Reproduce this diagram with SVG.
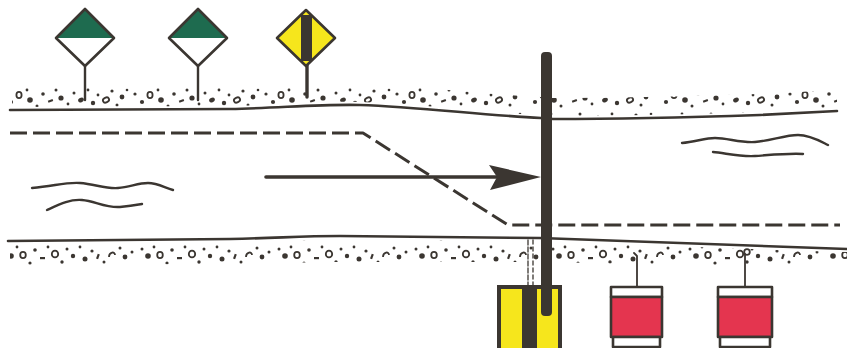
<svg xmlns="http://www.w3.org/2000/svg" width="847" height="348" viewBox="0 0 847 348">
  <style>
    .ink { fill: none; stroke: #3b3631; stroke-linecap: round; stroke-linejoin: round; }
    .bank { stroke-width: 2.6; }
    .wave { stroke-width: 2.4; }
    .lane { stroke-width: 3; stroke-dasharray: 17 6; stroke-linecap: butt; }
    .dot { fill: #3b3631; }
    .ring { fill: none; stroke: #3b3631; stroke-width: 1.8; }
    .outline { stroke: #3b3631; stroke-width: 2.6; stroke-linejoin: round; }
    .green { fill: #1e6b4f; }
    .white { fill: #ffffff; }
    .yellow { fill: #f6e61c; }
    .red { fill: #e4354f; }
    .dark { fill: #3b3631; }
  </style>
  <defs>
    <!-- gravel texture for the banks -->
    <pattern id="gritA" patternUnits="userSpaceOnUse" x="0" y="86" width="131" height="24">
      <circle class="dot" cx="4" cy="8" r="1.6"/>
      <circle class="dot" cx="11" cy="16" r="2.1"/>
      <ellipse class="ring" cx="19" cy="9" rx="2.6" ry="3.2"/>
      <circle class="dot" cx="27" cy="4" r="1.4"/>
      <circle class="dot" cx="30" cy="14" r="2.8"/>
      <circle class="dot" cx="37" cy="20" r="1.5"/>
      <circle class="dot" cx="43" cy="8" r="1.8"/>
      <rect class="dot" x="48" y="14" width="5" height="2.2" transform="rotate(-20 50 15)"/>
      <circle class="dot" cx="56" cy="4" r="1.5"/>
      <circle class="dot" cx="61" cy="12" r="2.6"/>
      <circle class="dot" cx="68" cy="18" r="1.4"/>
      <circle class="dot" cx="74" cy="7" r="1.5"/>
      <ellipse class="dot" cx="81" cy="14" rx="3" ry="2.2" transform="rotate(-30 81 14)"/>
      <circle class="dot" cx="88" cy="4" r="1.4"/>
      <circle class="dot" cx="93" cy="17" r="2.2"/>
      <circle class="dot" cx="98" cy="9" r="1.4"/>
      <ellipse class="ring" cx="106" cy="14" rx="3.2" ry="2.4" transform="rotate(-25 106 14)"/>
      <circle class="dot" cx="112" cy="5" r="1.6"/>
      <circle class="dot" cx="117" cy="19" r="1.5"/>
      <circle class="dot" cx="122" cy="11" r="2.4"/>
      <circle class="dot" cx="127" cy="4" r="1.3"/>
    </pattern>
    <pattern id="gritB" patternUnits="userSpaceOnUse" x="0" y="243" width="137" height="24">
      <circle class="dot" cx="5" cy="6" r="1.5"/>
      <circle class="dot" cx="11" cy="13" r="2.8"/>
      <circle class="dot" cx="17" cy="4" r="1.4"/>
      <ellipse class="ring" cx="23" cy="12" rx="2.8" ry="3.2"/>
      <circle class="dot" cx="30" cy="20" r="1.6"/>
      <circle class="dot" cx="35" cy="7" r="1.8"/>
      <rect class="dot" x="40" y="14" width="5" height="2.2"/>
      <circle class="dot" cx="48" cy="4" r="1.4"/>
      <ellipse class="ring" cx="55" cy="11" rx="3.2" ry="3.4"/>
      <circle class="dot" cx="62" cy="19" r="1.7"/>
      <circle class="dot" cx="67" cy="6" r="1.5"/>
      <circle class="dot" cx="73" cy="13" r="2.2"/>
      <circle class="dot" cx="80" cy="4" r="1.4"/>
      <circle class="dot" cx="85" cy="16" r="2.5"/>
      <circle class="dot" cx="92" cy="8" r="1.6"/>
      <rect class="dot" x="97" y="11" width="2.2" height="5" transform="rotate(20 98 13)"/>
      <circle class="dot" cx="104" cy="19" r="1.5"/>
      <path class="ring" d="M109,14 C109,9 115,8 115,12"/>
      <circle class="dot" cx="120" cy="5" r="1.5"/>
      <circle class="dot" cx="125" cy="14" r="2.4"/>
      <circle class="dot" cx="132" cy="9" r="1.5"/>
    </pattern>
  </defs>

  <rect width="847" height="348" fill="#ffffff"/>

  <!-- gravel bands -->
  <path fill="url(#gritA)" d="M12,88 L230,88 C280,87 320,84 360,84 C420,86 480,94 541,97 L553,98 C620,98 700,96 760,94 C800,92 820,91 837,90 L837,108 C820,109 800,110 760,112 C700,114 620,116 553,116 L541,115 C480,112 420,104 360,102 C320,101 280,105 230,106 L12,107 Z"/>
  <path fill="url(#gritB)" d="M10,243 L230,243 C280,242 300,240 340,240 L540,241 C600,243 700,248 847,252 L847,268 C700,266 600,263 540,262 L340,262 C300,262 280,264 230,264 L10,265 Z"/>

  <!-- river banks -->
  <path class="ink bank" d="M10,110 L230,109 C280,108 320,104 360,105 C420,107 480,115 541,118 L553,119 C620,119 700,117 760,115 C800,113 820,112 837,111"/>
  <path class="ink bank" d="M8,241 L230,239 C280,238 300,236 340,236 L540,238 C600,240 700,244 847,249"/>

  <!-- fairway boundary -->
  <path class="ink lane" d="M10,133 L363,133 L508,225 L840,225"/>

  <!-- water ripples -->
  <path class="ink wave" d="M32,188 C55,186 65,182 80,183 C95,184 105,189 118,188 C130,187 138,183 148,183 C158,183 165,188 173,190"/>
  <path class="ink wave" d="M47,210 C60,204 70,199 82,200 C95,201 105,208 120,207 C130,206 136,205 142,204"/>
  <path class="ink wave" d="M682,143 C695,142 705,138 715,138 C728,138 740,143 755,142 C770,141 785,135 798,135 C810,135 820,141 828,145"/>
  <path class="ink wave" d="M713,152 C725,153 740,157 755,156 C770,155 790,153 803,154"/>

  <!-- bank signs -->
  <g id="sign-left">
    <line class="ink" x1="85" y1="65" x2="85" y2="100" stroke-width="2.4"/>
    <polygon class="green" points="85,9 114,38 56,38"/>
    <polygon class="white" points="56,38 114,38 85,66"/>
    <polygon class="outline" fill="none" points="85,9 114,38 85,66 56,38"/>
  </g>
  <g id="sign-middle">
    <line class="ink" x1="198" y1="65" x2="198" y2="100" stroke-width="2.4"/>
    <polygon class="green" points="198,9 227,38 169,38"/>
    <polygon class="white" points="169,38 227,38 198,66"/>
    <polygon class="outline" fill="none" points="198,9 227,38 198,66 169,38"/>
  </g>
  <g id="sign-right">
    <line class="ink" x1="307" y1="64" x2="307" y2="97" stroke-width="3.4"/>
    <polygon class="yellow" points="306,10 335,38 306,66 277,38"/>
    <polygon class="dark" points="301,15 312,15 312,61 301,61"/>
    <polygon class="outline" fill="none" points="306,10 335,38 306,66 277,38"/>
  </g>

  <!-- mooring buoy with pole -->
  <g id="pole-buoy">
    <line class="ink" x1="528" y1="240" x2="528" y2="286" stroke-width="1.3" stroke-dasharray="5 2"/>
    <line class="ink" x1="533" y1="240" x2="533" y2="286" stroke-width="1.3" stroke-dasharray="4 3"/>
    <rect class="dark" x="497" y="285" width="65" height="65"/>
    <rect class="yellow" x="501" y="289" width="21" height="61"/>
    <rect class="yellow" x="537" y="289" width="21" height="61"/>
    <rect class="dark" x="541" y="52" width="11" height="264" rx="4"/>
  </g>

  <!-- red buoys -->
  <g id="buoy-1">
    <path class="ink" d="M637,287 L637,256 L634,253" stroke-width="1.8"/>
    <rect class="white outline" x="611" y="287" width="51" height="10"/>
    <rect class="red outline" x="611" y="297" width="51" height="40"/>
    <rect class="white outline" x="613" y="337" width="47" height="10"/>
  </g>
  <g id="buoy-2">
    <path class="ink" d="M745,287 L745,254" stroke-width="1.8"/>
    <circle class="ring" cx="747" cy="252" r="2.8" stroke-width="1.6"/>
    <rect class="white outline" x="718" y="287" width="54" height="10"/>
    <rect class="red outline" x="718" y="297" width="54" height="40"/>
    <rect class="white outline" x="720" y="337" width="50" height="10"/>
  </g>

  <!-- direction of travel -->
  <g id="connectors">
    <line class="ink" x1="266" y1="177" x2="496" y2="177" stroke-width="3.6"/>
    <polygon class="dark" points="489,165 541,177 490,190 497,177"/>
  </g>
</svg>
